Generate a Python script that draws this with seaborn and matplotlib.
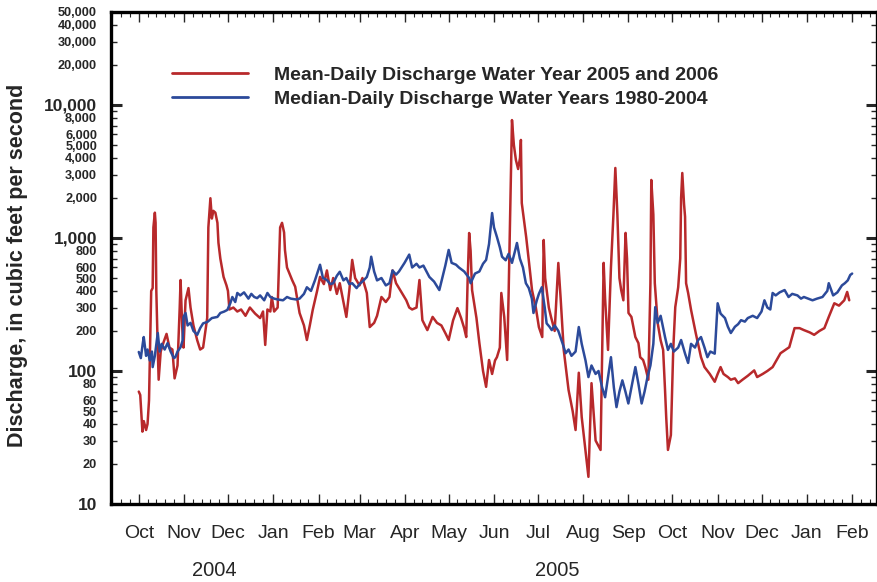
import matplotlib
matplotlib.use("Agg")
import matplotlib.pyplot as plt
import matplotlib.dates as mdates
import matplotlib.transforms as mtrans
import numpy as np
import pandas as pd
import seaborn as sns

# ---------------- data (days since 2004-10-01, discharge in cfs) ----------------
start_date = "2004-10-01"

mean_days = [0, 1, 2.5, 3.4, 5, 6, 7, 7.7, 8.5, 9.5, 10, 11, 11.5, 12, 13, 13.6, 15, 17, 19, 21,
             23, 24.5, 26.5, 28, 28.6, 29.7, 30.6, 32, 34, 35.4, 37.4, 40, 42, 44, 46.8, 47.6, 49, 50, 51, 52.4,
             53.8, 54.5, 55.8, 58, 60, 61, 62, 64.7, 67.4, 70, 73, 76, 79.6, 83, 85, 86.5, 88, 90, 91, 92.6,
             95, 96.7, 98, 99.4, 100, 101.4, 105, 107, 110, 113, 115, 117, 119, 122, 124, 126.6, 128.7, 131, 133, 135.5,
             137.5, 140, 142, 144, 146, 148, 151, 153, 156, 158, 161, 163, 166, 169, 171.5, 173.6, 176, 178, 181, 183,
             185, 187, 190, 192, 194, 197.4, 201, 204, 207, 210, 212, 215, 218, 220.5, 222.6, 224, 225, 226, 227, 228,
             231, 233, 235.5, 237.6, 239.6, 241.7, 243.7, 245, 247, 248, 250, 252, 253, 254.6, 255.3, 256.6, 258, 259.5, 260.8, 261.4,
             262, 265, 267, 269, 271.6, 273.7, 276, 277, 278, 280.5, 282, 284.5, 287, 288.6, 290.7, 294, 296.8, 298.8, 301, 303,
             305.6, 307.6, 309.7, 312.5, 315.9, 318, 319, 321, 323, 324.7, 326, 327.4, 328.8, 330, 331.5, 333, 334, 335, 337, 339.7,
             341.8, 343, 345, 346.5, 348.6, 350, 350.6, 352, 353, 355, 357, 358.7, 360, 360.8, 362, 364, 365.6, 367, 369, 370.4,
             371, 371.8, 373, 373.7, 374.4, 375.8, 377.8, 381, 384.6, 387, 390.6, 394, 396, 398, 400, 403, 405, 407.8, 410, 413,
             416.6, 421, 423, 426.8, 430, 433.6, 439, 445, 448.6, 452, 455, 459, 462, 465.6, 469, 472, 475.8, 479, 482.6, 484.6,
             486]
mean_cfs = [70, 66, 35, 42, 36, 40, 60, 144, 400, 420, 1200, 1550, 1300, 400, 144, 86, 140, 165, 190, 150,
            145, 88, 110, 300, 483, 215, 150, 340, 420, 300, 220, 170, 145, 150, 250, 1200, 1990, 1400, 1600, 1550,
            1300, 920, 700, 510, 440, 400, 290, 300, 280, 290, 260, 300, 270, 250, 280, 157, 290, 280, 360, 280,
            300, 1200, 1300, 1100, 813, 600, 480, 430, 273, 220, 171, 220, 288, 400, 510, 450, 570, 406, 500, 380,
            457, 330, 255, 400, 684, 500, 440, 500, 386, 214, 230, 260, 360, 330, 360, 570, 457, 420, 370, 340,
            300, 290, 300, 483, 241, 203, 255, 230, 220, 190, 171, 240, 297, 250, 210, 180, 500, 1090, 800, 406,
            250, 162, 100, 76, 121, 95, 120, 127, 150, 386, 255, 121, 380, 3000, 7700, 5000, 3850, 3300, 4000, 5460,
            1830, 1018, 649, 406, 300, 214, 180, 966, 500, 300, 255, 200, 649, 350, 144, 72, 50, 36, 97, 45,
            25, 16, 81, 30, 25.5, 650, 350, 144, 600, 1500, 3360, 1500, 500, 406, 340, 1092, 700, 273, 255, 180,
            162, 127, 121, 107, 86, 457, 2730, 1500, 457, 228, 170, 144, 72, 45, 25.5, 33, 144, 302, 426, 700,
            2000, 3080, 1800, 1445, 457, 386, 288, 193, 127, 107, 95, 83, 95, 107, 95, 90, 86, 88, 81, 86,
            92, 101, 90, 95, 100, 107, 136, 151, 210, 210, 203, 195, 187, 200, 210, 255, 323, 310, 340, 393,
            340]

median_days = [0, 1.4, 2.7, 3.4, 5, 6, 7.5, 9, 9.5, 11, 13, 14.3, 15.7, 17.7, 19.7, 21.8, 24, 25, 26.5, 28.6,
               30, 30.6, 32, 33.4, 35.4, 37.4, 40, 42, 44, 47, 50, 53.8, 55.8, 58.5, 60.6, 62.6, 64, 66, 67.4, 69.4,
               72, 75, 77, 79, 81, 83, 85.8, 88, 90, 92.6, 95, 98.7, 101.4, 104, 107.6, 110, 113, 115, 117.8, 120.5,
               124, 126, 128.7, 131, 133, 135.5, 137.5, 140, 142, 144, 146, 149, 151, 153.8, 156, 158, 159, 161, 163, 166,
               169, 171.5, 173.6, 176, 178, 181.8, 185, 187, 190, 192, 194.7, 198.8, 202, 205.6, 207.6, 209.7, 212, 214, 217, 219,
               222.6, 226, 227, 230, 233, 235.5, 237.6, 239.6, 241.7, 243, 245, 247, 248.5, 251, 253, 255.3, 257.4, 258.7, 260.7, 262.8,
               264.8, 266.8, 268.9, 270, 272.3, 273.7, 275.7, 277.7, 279, 281, 282.5, 284.5, 287, 290, 292, 294, 296, 298.8, 301, 303,
               305.6, 307.6, 309.7, 312.5, 314.5, 317, 319, 321, 323, 325, 326.8, 328.8, 330.8, 332.9, 334.9, 337, 339.7, 341.8, 344, 346,
               348, 350, 352, 353.3, 355, 357, 360, 362, 364, 366, 369, 371, 373.7, 375.8, 377.8, 380.5, 382.5, 384.6, 387, 389,
               391, 394, 396, 398, 401, 403, 405, 407.8, 410, 412, 414.6, 416.6, 420, 423, 426, 428, 430, 432, 433.6, 435.7,
               438.4, 441.8, 444.5, 447, 450.6, 453, 455, 458, 460.9, 464, 467.7, 471, 472, 475, 477.9, 481, 483, 485, 486.7, 488]
median_cfs = [139, 125, 160, 180, 130, 145, 120, 140, 107, 130, 193, 140, 160, 145, 162, 140, 125, 127, 140, 151,
              170, 255, 273, 220, 230, 200, 187, 210, 228, 234, 250, 255, 273, 280, 288, 323, 360, 330, 386, 370,
              390, 350, 380, 360, 353, 370, 340, 386, 360, 350, 345, 340, 360, 350, 345, 350, 380, 426, 400, 480,
              629, 500, 483, 450, 457, 520, 557, 480, 500, 450, 457, 420, 450, 480, 509, 600, 723, 560, 480, 500,
              440, 457, 570, 530, 560, 650, 750, 600, 640, 600, 620, 509, 470, 406, 500, 620, 813, 650, 630, 600,
              560, 500, 457, 540, 560, 640, 684, 900, 1540, 1200, 1018, 850, 723, 680, 760, 650, 800, 917, 700, 600,
              457, 420, 350, 273, 340, 380, 426, 300, 228, 215, 203, 220, 200, 160, 136, 145, 130, 140, 214, 160,
              120, 90, 110, 95, 100, 75, 63.5, 90, 127, 75, 53.5, 70, 85, 70, 57, 75, 107, 80, 57, 70,
              90, 110, 160, 302, 230, 260, 180, 144, 160, 140, 150, 171, 135, 115, 160, 150, 170, 180, 150, 127,
              140, 135, 323, 270, 250, 215, 193, 215, 225, 241, 235, 250, 260, 250, 280, 340, 300, 290, 386, 370,
              390, 406, 360, 380, 370, 350, 360, 350, 340, 350, 360, 400, 457, 370, 390, 440, 457, 480, 527, 540]

series_labels = ["Mean-Daily Discharge Water Year 2005 and 2006",
                 "Median-Daily Discharge Water Years 1980-2004"]
month_labels_fmt = "%b"
year_labels = ["2004", "2005"]
year_label_dates = ["2004-11-22", "2005-07-14"]
major_y = [10, 100, 1000, 10000]
major_y_labels = ["10", "100", "1,000", "10,000"]
minor_y = [20, 30, 40, 50, 60, 70, 80, 90,
           200, 300, 400, 500, 600, 700, 800, 900,
           2000, 3000, 4000, 5000, 6000, 7000, 8000, 9000,
           20000, 30000, 40000, 50000]
minor_y_labels = ["20", "30", "40", "50", "60", "", "80", "",
                  "200", "300", "400", "500", "600", "", "800", "",
                  "2,000", "3,000", "4,000", "5,000", "6,000", "", "8,000", "",
                  "20,000", "30,000", "40,000", "50,000"]
y_label = "Discharge, in cubic feet per second"

# ---------------- build frames ----------------
t0 = pd.Timestamp(start_date)
df_mean = pd.DataFrame({"date": t0 + pd.to_timedelta(mean_days, unit="D"),
                        "cfs": mean_cfs, "series": series_labels[0]})
df_med = pd.DataFrame({"date": t0 + pd.to_timedelta(median_days, unit="D"),
                       "cfs": median_cfs, "series": series_labels[1]})

# ---------------- style ----------------
sns.set_style("ticks")
plt.rcParams["font.family"] = ["Liberation Sans", "DejaVu Sans"]

fig = plt.figure(figsize=(8.78, 5.82), dpi=100)
ax = fig.add_axes([111 / 878, 1 - 504 / 582, (877 - 111) / 878, (504 - 12) / 582])

red, blue = "#b8292b", "#2c4a9a"
sns.lineplot(data=df_mean, x="date", y="cfs", color=red,
             linewidth=1.8, estimator=None, ax=ax, label=series_labels[0], sort=False)
sns.lineplot(data=df_med, x="date", y="cfs", color=blue,
             linewidth=1.8, estimator=None, ax=ax, label=series_labels[1], sort=False)

ax.set_yscale("log")
ax.set_ylim(10, 50000)
ax.set_xlim(pd.Timestamp("2004-09-12"), pd.Timestamp("2006-02-18"))

# y ticks
ax.yaxis.set_major_locator(matplotlib.ticker.FixedLocator(major_y))
ax.yaxis.set_major_formatter(matplotlib.ticker.FixedFormatter(major_y_labels))
ax.yaxis.set_minor_locator(matplotlib.ticker.FixedLocator(minor_y))
ax.yaxis.set_minor_formatter(matplotlib.ticker.FixedFormatter(minor_y_labels))
ax.tick_params(axis="y", which="major", direction="in", length=8, width=2.2,
               labelsize=12.5, pad=10, right=True, left=True)
ax.tick_params(axis="y", which="minor", direction="in", length=4, width=1.0,
               labelsize=9.2, pad=10, right=True, left=True)
for lab in ax.get_yticklabels(which="both"):
    lab.set_fontweight("bold")

# x ticks
ax.xaxis.set_major_locator(mdates.MonthLocator())
ax.xaxis.set_major_formatter(mdates.DateFormatter(month_labels_fmt))
ax.xaxis.set_minor_locator(mdates.DayLocator(bymonthday=[7, 13, 19, 25]))
ax.tick_params(axis="x", which="major", direction="in", length=7, width=1.0,
               labelsize=14, pad=15, top=True, bottom=True)
ax.tick_params(axis="x", which="minor", direction="in", length=3.5, width=0.8,
               top=True, bottom=True)

for s in ax.spines.values():
    s.set_linewidth(2.4)
    s.set_color("black")

ax.set_xlabel("")
ax.set_ylabel(y_label, fontsize=15.5, fontweight="bold")
ax.yaxis.set_label_coords((28 - 111) / 766, (504 - 265) / 492)

trans = mtrans.blended_transform_factory(ax.transData, ax.transAxes)
for lbl, d in zip(year_labels, year_label_dates):
    ax.text(mdates.date2num(pd.Timestamp(d)), -0.135, lbl, transform=trans,
            ha="center", va="center", fontsize=14.5)

handles, labels = ax.get_legend_handles_labels()
leg = ax.legend(handles, labels, loc="upper left", bbox_to_anchor=(0.07, 0.905),
                frameon=False, fontsize=14, handlelength=3.9, handletextpad=1.35,
                labelspacing=0.3, borderaxespad=0)
for t in leg.get_texts():
    t.set_fontweight("bold")
for h in leg.get_lines():
    h.set_linewidth(2.0)

ax.grid(False)
fig.savefig("out.png", dpi=100)
